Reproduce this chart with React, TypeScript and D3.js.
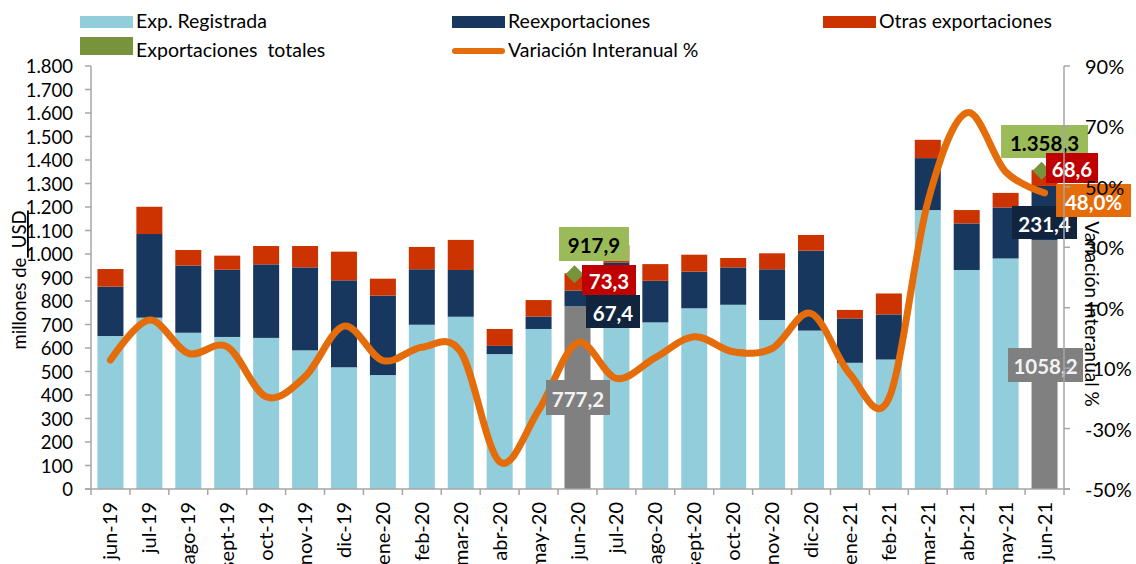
import React from "react";
import * as d3 from "d3";

const categories = ["jun-19","jul-19","ago-19","sept-19","oct-19","nov-19","dic-19","ene-20","feb-20","mar-20","abr-20","may-20","jun-20","jul-20","ago-20","sept-20","oct-20","nov-20","dic-20","ene-21","feb-21","mar-21","abr-21","may-21","jun-21"];
const expRegistrada = [651,729,665,647,643,590,518,485,699,733,574,681,777.2,710,709,769,784,719,674,537,551,1187,932,981,1058.2];
const reexportaciones = [210,356,286,286,313,353,370,338,236,199,35,53,67.4,254,177,156,159,216,340,189,192,221,198,217,231.4];
const otrasExportaciones = [75,116,66,60,78,91,122,72,95,128,72,70,73.3,74,71,72,40,68,67,36,89,78,57,62,68.6];
const variacionInteranual = [-7.3,5.9,-5.1,-2.9,-19.5,-12.8,3.9,-7.5,-3.1,-4.6,-41,-24,-1.6,-13.4,-6.5,0.4,-4.6,-3.5,8.1,-12,-20,45,74.5,55,48.0];
const highlightCategories = ["jun-20","jun-21"];
const exportacionesTotales = [917.9, 1358.3];
const leftTicks = d3.range(0, 1801, 100);
const rightTicks = [-50,-30,-10,10,30,50,70,90];

const C = {
  light: "#92CDDC",
  navy: "#17375E",
  otras: "#CC3300",
  green: "#77933C",
  greenLbl: "#9BBB59",
  line: "#E46C0A",
  gray: "#808080",
  red: "#C00000",
  navyLbl: "#10243E",
  axis: "#A6A6A6",
};

const FONT = "Lato, 'Noto Sans', sans-serif";
const loc = d3.formatLocale({ decimal: ",", thousands: ".", grouping: [3], currency: ["", ""] });
const fmtThousands = loc.format(",.0f");
const fmt1 = loc.format(".1f");
const fmt1g = loc.format(",.1f");

export default function App() {
  const W = 1136, H = 564;
  const L = 91, R = 1064, T = 66, B = 489;
  const x = d3.scaleBand<string>().domain(categories).range([L, R]).paddingInner(0.332).paddingOuter(0.166);
  const step = x.step();
  const bw = x.bandwidth();
  const yL = d3.scaleLinear().domain([0, 1800]).range([B, T]);
  const yR = d3.scaleLinear().domain([-50, 90]).range([B, T]);
  const cx = (c: string) => (x(c) as number) + bw / 2;

  const line = d3.line<number>()
    .x((_, i) => cx(categories[i]))
    .y((d) => yR(d))
    .curve(d3.curveCardinal.tension(0));

  const layouts = [
    {
      total: { dx: -18.5, w: 70, y0: 227, h: 34 },
      otras: { dx: 4.5, w: 54, y0: 265, h: 30 },
      reex: { dx: 8.5, w: 54, y0: 295, h: 33 },
      base: { dx: -31.5, w: 64, y0: 380, h: 35 },
      pct: null as any,
    },
    {
      total: { dx: -43.5, w: 87, y0: 125, h: 33 },
      otras: { dx: 1.5, w: 52, y0: 153, h: 30 },
      reex: { dx: -32.5, w: 65, y0: 206, h: 33 },
      base: { dx: -36.5, w: 75, y0: 348, h: 34 },
      pct: { dx: 11.5, w: 75, y0: 184, h: 33 },
    },
  ];

  const box = (key: string, c: number, b: any, fill: string, text: string, color: string) => (
    <g key={key}>
      <rect x={c + b.dx} y={b.y0} width={b.w} height={b.h} fill={fill} />
      <text x={c + b.dx + b.w / 2} y={b.y0 + b.h / 2 + 1} textAnchor="middle" dominantBaseline="central"
        fontFamily={FONT} fontWeight={700} fontSize={20.5} fill={color}>{text}</text>
    </g>
  );

  const legendItems = [
    { label: "Exp. Registrada", color: C.light, x: 80, y: 16, h: 12, type: "rect" },
    { label: "Reexportaciones", color: C.navy, x: 452, y: 16, h: 12, type: "rect" },
    { label: "Otras exportaciones", color: C.otras, x: 823, y: 16, h: 12, type: "rect" },
    { label: "Exportaciones  totales", color: C.green, x: 80, y: 37, h: 18, type: "rect" },
    { label: "Variación Interanual %", color: C.line, x: 452, y: 51, h: 0, type: "line" },
  ];

  return (
    <svg width={W} height={H} style={{ position: "absolute", left: 0, top: 0, background: "#fff" }}>
      {legendItems.map((it) => (
        <g key={it.label}>
          {it.type === "rect" ? (
            <rect x={it.x} y={it.y} width={53} height={it.h} fill={it.color} />
          ) : (
            <line x1={it.x + 3} x2={it.x + 50} y1={it.y} y2={it.y} stroke={it.color} strokeWidth={6} strokeLinecap="round" />
          )}
          <text x={it.x + 56} y={it.type === "line" ? 57 : it.y + (it.h === 12 ? 12 : 20)} fontFamily={FONT} fontSize={19.5}
            fill="#000" style={{ whiteSpace: "pre" }}>{it.label}</text>
        </g>
      ))}

      {categories.map((c, i) => {
        const hl = highlightCategories.includes(c);
        const v0 = expRegistrada[i];
        const v1 = v0 + reexportaciones[i];
        const v2 = v1 + otrasExportaciones[i];
        const bx = x(c) as number;
        return (
          <g key={c}>
            <rect x={bx} y={yL(v0)} width={bw} height={yL(0) - yL(v0)} fill={hl ? C.gray : C.light} />
            <rect x={bx} y={yL(v1)} width={bw} height={yL(v0) - yL(v1)} fill={C.navy} />
            <rect x={bx} y={yL(v2)} width={bw} height={yL(v1) - yL(v2)} fill={C.otras} />
          </g>
        );
      })}

      <path d={line(variacionInteranual) || ""} fill="none" stroke={C.line} strokeWidth={7} strokeLinecap="round" strokeLinejoin="round" />

      {highlightCategories.map((c, k) => {
        const px = cx(c) - 3;
        const py = yL(exportacionesTotales[k]) + 1;
        const s = 9;
        return <polygon key={"d" + c} points={`${px},${py - s} ${px + s},${py} ${px},${py + s} ${px - s},${py}`} fill={C.green} />;
      })}

      {highlightCategories.map((c, k) => {
        const i = categories.indexOf(c);
        const lay = layouts[k];
        const ccx = cx(c);
        return (
          <g key={"lbl" + c}>
            {box("b", ccx, lay.base, C.gray, fmt1(expRegistrada[i]), "#F2F2F2")}
            {box("t", ccx, lay.total, C.greenLbl, fmt1g(exportacionesTotales[k]), "#000")}
            {box("o", ccx, lay.otras, C.red, fmt1(otrasExportaciones[i]), "#fff")}
            {box("r", ccx, lay.reex, C.navyLbl, fmt1(reexportaciones[i]), "#fff")}
            {lay.pct && box("p", ccx, lay.pct, C.line, fmt1(variacionInteranual[i]) + "%", "#fff")}
          </g>
        );
      })}

      <line x1={L} x2={L} y1={T} y2={B} stroke={C.axis} strokeWidth={1.5} />
      {leftTicks.map((t) => (
        <g key={"lt" + t}>
          <line x1={L - 6} x2={L} y1={yL(t)} y2={yL(t)} stroke={C.axis} strokeWidth={1.5} />
          <text x={73} y={yL(t)} textAnchor="end" dominantBaseline="central" fontFamily={FONT} fontSize={18.5} fill="#000">{fmtThousands(t)}</text>
        </g>
      ))}

      <line x1={R} x2={R} y1={T} y2={B} stroke={C.axis} strokeWidth={1.5} />
      {rightTicks.map((t) => (
        <g key={"rt" + t}>
          <line x1={R} x2={R + 6} y1={yR(t)} y2={yR(t)} stroke={C.axis} strokeWidth={1.5} />
          <text x={1085} y={yR(t)} textAnchor="start" dominantBaseline="central" fontFamily={FONT} fontSize={20} fill="#000">{t + "%"}</text>
        </g>
      ))}

      <line x1={L - 6} x2={R + 6} y1={B} y2={B} stroke={C.axis} strokeWidth={1.5} />
      {d3.range(categories.length + 1).map((k) => (
        <line key={"xt" + k} x1={L + k * step} x2={L + k * step} y1={B} y2={B + 6} stroke={C.axis} strokeWidth={1.5} />
      ))}
      {categories.map((c) => (
        <text key={"xl" + c} transform={`translate(${cx(c) + 7},${502}) rotate(-90)`} textAnchor="end"
          fontFamily={FONT} fontSize={20} fill="#000">{c}</text>
      ))}

      <text transform={`translate(26,280) rotate(-90)`} textAnchor="middle" fontFamily={FONT} fontSize={18.5} fill="#000" style={{ whiteSpace: "pre" }}>
        millones de<tspan style={{ textDecoration: "underline" }}>  USD</tspan>
      </text>
      <text transform={`translate(1085,314) rotate(90)`} textAnchor="middle" fontFamily={FONT} fontSize={19} fill="#000">
        Variación Interanual %
      </text>
    </svg>
  );
}
